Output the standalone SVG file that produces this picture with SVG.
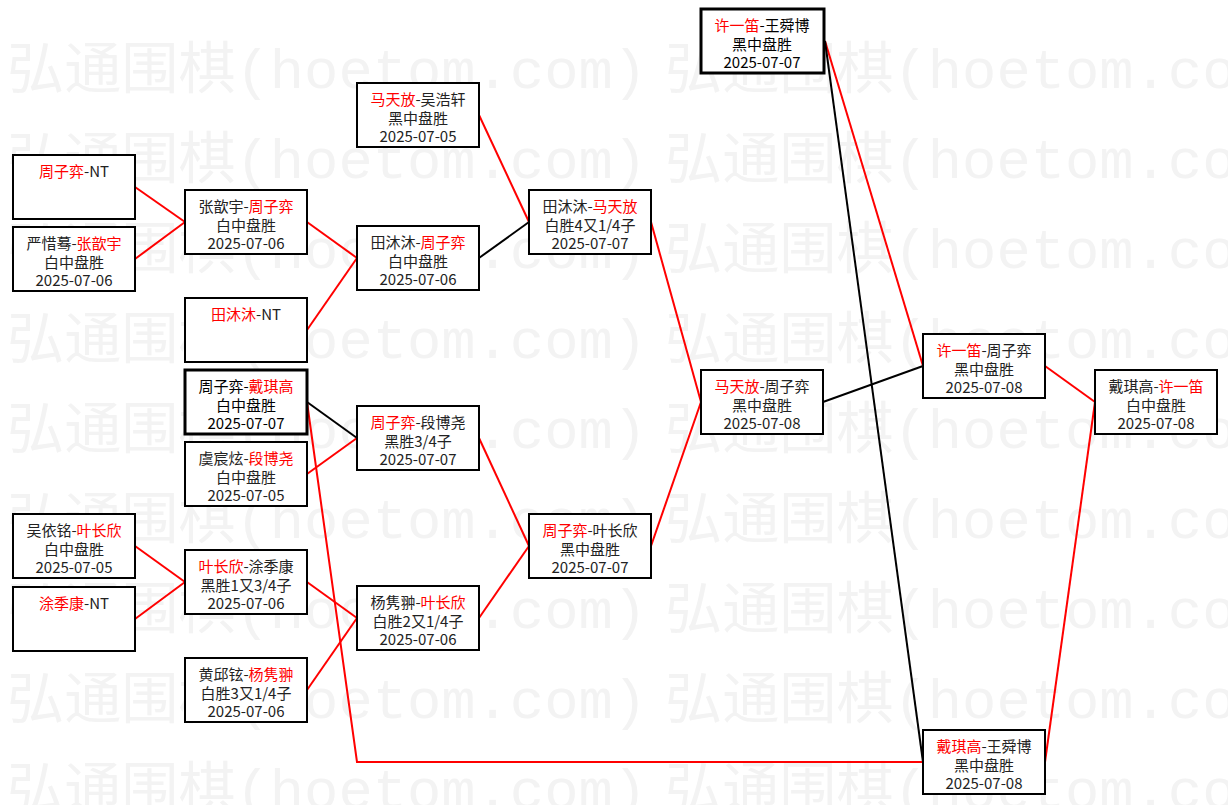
<svg xmlns="http://www.w3.org/2000/svg" width="1228" height="805" viewBox="0 0 1228 805">
<style>
.bg{fill:#fff}
.wm{font-family:"Liberation Mono","Noto Sans CJK SC",monospace;font-size:56px;fill:#f3f3f3}
.box{fill:#fff;stroke:#000;stroke-width:2}
.thick{stroke-width:3}
.t{font-family:"Noto Sans CJK SC","Noto Sans",sans-serif;font-size:15px;fill:#222;text-anchor:middle}
.r{fill:#f00}
.cr{stroke:#f00;stroke-width:2;fill:none}
.cb{stroke:#000;stroke-width:2;fill:none}
</style>
<rect class="bg" x="0" y="0" width="1228" height="805"/>
<g id="watermark">
<text class="wm" x="7" y="88" textLength="640" lengthAdjust="spacingAndGlyphs">弘通围棋(hoetom.com)</text>
<text class="wm" x="665" y="88" textLength="640" lengthAdjust="spacingAndGlyphs">弘通围棋(hoetom.com)</text>
<text class="wm" x="7" y="178" textLength="640" lengthAdjust="spacingAndGlyphs">弘通围棋(hoetom.com)</text>
<text class="wm" x="665" y="178" textLength="640" lengthAdjust="spacingAndGlyphs">弘通围棋(hoetom.com)</text>
<text class="wm" x="7" y="268" textLength="640" lengthAdjust="spacingAndGlyphs">弘通围棋(hoetom.com)</text>
<text class="wm" x="665" y="268" textLength="640" lengthAdjust="spacingAndGlyphs">弘通围棋(hoetom.com)</text>
<text class="wm" x="7" y="358" textLength="640" lengthAdjust="spacingAndGlyphs">弘通围棋(hoetom.com)</text>
<text class="wm" x="665" y="358" textLength="640" lengthAdjust="spacingAndGlyphs">弘通围棋(hoetom.com)</text>
<text class="wm" x="7" y="448" textLength="640" lengthAdjust="spacingAndGlyphs">弘通围棋(hoetom.com)</text>
<text class="wm" x="665" y="448" textLength="640" lengthAdjust="spacingAndGlyphs">弘通围棋(hoetom.com)</text>
<text class="wm" x="7" y="538" textLength="640" lengthAdjust="spacingAndGlyphs">弘通围棋(hoetom.com)</text>
<text class="wm" x="665" y="538" textLength="640" lengthAdjust="spacingAndGlyphs">弘通围棋(hoetom.com)</text>
<text class="wm" x="7" y="628" textLength="640" lengthAdjust="spacingAndGlyphs">弘通围棋(hoetom.com)</text>
<text class="wm" x="665" y="628" textLength="640" lengthAdjust="spacingAndGlyphs">弘通围棋(hoetom.com)</text>
<text class="wm" x="7" y="718" textLength="640" lengthAdjust="spacingAndGlyphs">弘通围棋(hoetom.com)</text>
<text class="wm" x="665" y="718" textLength="640" lengthAdjust="spacingAndGlyphs">弘通围棋(hoetom.com)</text>
<text class="wm" x="7" y="808" textLength="640" lengthAdjust="spacingAndGlyphs">弘通围棋(hoetom.com)</text>
<text class="wm" x="665" y="808" textLength="640" lengthAdjust="spacingAndGlyphs">弘通围棋(hoetom.com)</text>
</g>
<g id="connectors">
<line class="cr" x1="135" y1="187" x2="185" y2="222"/>
<line class="cr" x1="135" y1="259" x2="185" y2="222"/>
<line class="cr" x1="307" y1="222" x2="357" y2="258"/>
<line class="cr" x1="307" y1="330" x2="357" y2="258"/>
<line class="cr" x1="479" y1="115" x2="529" y2="222"/>
<line class="cb" x1="479" y1="258" x2="529" y2="222"/>
<line class="cb" x1="307" y1="402" x2="357" y2="438"/>
<line class="cr" x1="307" y1="474" x2="357" y2="438"/>
<line class="cr" x1="135" y1="546" x2="185" y2="582"/>
<line class="cr" x1="135" y1="619" x2="185" y2="582"/>
<line class="cr" x1="307" y1="582" x2="357" y2="618"/>
<line class="cr" x1="307" y1="690" x2="357" y2="618"/>
<line class="cr" x1="479" y1="438" x2="529" y2="546"/>
<line class="cr" x1="479" y1="618" x2="529" y2="546"/>
<line class="cr" x1="651" y1="222" x2="701" y2="402"/>
<line class="cr" x1="651" y1="546" x2="701" y2="402"/>
<line class="cb" x1="823" y1="402" x2="923" y2="366"/>
<line class="cr" x1="825" y1="41" x2="923" y2="366"/>
<line class="cb" x1="825" y1="41" x2="923" y2="762"/>
<polyline class="cr" points="307,402 357,762 923,762"/>
<line class="cr" x1="1045" y1="366" x2="1095" y2="402"/>
<line class="cr" x1="1045" y1="762" x2="1095" y2="402"/>
</g>
<g id="A1"><rect class="box" x="13" y="155" width="122" height="64"/><text class="t" x="74" y="177"><tspan class="r">周子弈</tspan>-NT</text></g>
<g id="A2"><rect class="box" x="13" y="227" width="122" height="64"/><text class="t" x="74" y="249">严惜蓦-<tspan class="r">张歆宇</tspan></text><text class="t" x="74" y="268">白中盘胜</text><text class="t" x="74" y="286">2025-07-06</text></g>
<g id="A3"><rect class="box" x="13" y="514" width="122" height="64"/><text class="t" x="74" y="536">吴依铭-<tspan class="r">叶长欣</tspan></text><text class="t" x="74" y="555">白中盘胜</text><text class="t" x="74" y="573">2025-07-05</text></g>
<g id="A4"><rect class="box" x="13" y="587" width="122" height="64"/><text class="t" x="74" y="609"><tspan class="r">涂季康</tspan>-NT</text></g>
<g id="B1"><rect class="box" x="185" y="190" width="122" height="64"/><text class="t" x="246" y="212">张歆宇-<tspan class="r">周子弈</tspan></text><text class="t" x="246" y="231">白中盘胜</text><text class="t" x="246" y="249">2025-07-06</text></g>
<g id="B2"><rect class="box" x="185" y="298" width="122" height="64"/><text class="t" x="246" y="320"><tspan class="r">田沐沐</tspan>-NT</text></g>
<g id="B3"><rect class="box thick" x="185" y="370" width="122" height="64"/><text class="t" x="246" y="392" style="fill:#000">周子弈-<tspan class="r">戴琪高</tspan></text><text class="t" x="246" y="411" style="fill:#000">白中盘胜</text><text class="t" x="246" y="429" style="fill:#000">2025-07-07</text></g>
<g id="B4"><rect class="box" x="185" y="442" width="122" height="64"/><text class="t" x="246" y="464">虞宸炫-<tspan class="r">段博尧</tspan></text><text class="t" x="246" y="483">白中盘胜</text><text class="t" x="246" y="501">2025-07-05</text></g>
<g id="B5"><rect class="box" x="185" y="550" width="122" height="64"/><text class="t" x="246" y="572"><tspan class="r">叶长欣</tspan>-涂季康</text><text class="t" x="246" y="591">黑胜1又3/4子</text><text class="t" x="246" y="609">2025-07-06</text></g>
<g id="B6"><rect class="box" x="185" y="658" width="122" height="64"/><text class="t" x="246" y="680">黄邱铉-<tspan class="r">杨隽翀</tspan></text><text class="t" x="246" y="699">白胜3又1/4子</text><text class="t" x="246" y="717">2025-07-06</text></g>
<g id="C1"><rect class="box" x="357" y="83" width="122" height="64"/><text class="t" x="418" y="105"><tspan class="r">马天放</tspan>-吴浩轩</text><text class="t" x="418" y="124">黑中盘胜</text><text class="t" x="418" y="142">2025-07-05</text></g>
<g id="C2"><rect class="box" x="357" y="226" width="122" height="64"/><text class="t" x="418" y="248">田沐沐-<tspan class="r">周子弈</tspan></text><text class="t" x="418" y="267">白中盘胜</text><text class="t" x="418" y="285">2025-07-06</text></g>
<g id="C3"><rect class="box" x="357" y="406" width="122" height="64"/><text class="t" x="418" y="428"><tspan class="r">周子弈</tspan>-段博尧</text><text class="t" x="418" y="447">黑胜3/4子</text><text class="t" x="418" y="465">2025-07-07</text></g>
<g id="C4"><rect class="box" x="357" y="586" width="122" height="64"/><text class="t" x="418" y="608">杨隽翀-<tspan class="r">叶长欣</tspan></text><text class="t" x="418" y="627">白胜2又1/4子</text><text class="t" x="418" y="645">2025-07-06</text></g>
<g id="D1"><rect class="box" x="529" y="190" width="122" height="64"/><text class="t" x="590" y="212">田沐沐-<tspan class="r">马天放</tspan></text><text class="t" x="590" y="231">白胜4又1/4子</text><text class="t" x="590" y="249">2025-07-07</text></g>
<g id="D2"><rect class="box" x="529" y="514" width="122" height="64"/><text class="t" x="590" y="536"><tspan class="r">周子弈</tspan>-叶长欣</text><text class="t" x="590" y="555">黑中盘胜</text><text class="t" x="590" y="573">2025-07-07</text></g>
<g id="E1"><rect class="box thick" x="701" y="9" width="123" height="64"/><text class="t" x="762" y="31" style="fill:#000"><tspan class="r">许一笛</tspan>-王舜博</text><text class="t" x="762" y="50" style="fill:#000">黑中盘胜</text><text class="t" x="762" y="68" style="fill:#000">2025-07-07</text></g>
<g id="E2"><rect class="box" x="701" y="370" width="122" height="64"/><text class="t" x="762" y="392"><tspan class="r">马天放</tspan>-周子弈</text><text class="t" x="762" y="411">黑中盘胜</text><text class="t" x="762" y="429">2025-07-08</text></g>
<g id="F1"><rect class="box" x="923" y="334" width="122" height="64"/><text class="t" x="984" y="356"><tspan class="r">许一笛</tspan>-周子弈</text><text class="t" x="984" y="375">黑中盘胜</text><text class="t" x="984" y="393">2025-07-08</text></g>
<g id="F2"><rect class="box" x="923" y="730" width="122" height="64"/><text class="t" x="984" y="752"><tspan class="r">戴琪高</tspan>-王舜博</text><text class="t" x="984" y="771">黑中盘胜</text><text class="t" x="984" y="789">2025-07-08</text></g>
<g id="G"><rect class="box" x="1095" y="370" width="122" height="64"/><text class="t" x="1156" y="392">戴琪高-<tspan class="r">许一笛</tspan></text><text class="t" x="1156" y="411">白中盘胜</text><text class="t" x="1156" y="429">2025-07-08</text></g>
</svg>
